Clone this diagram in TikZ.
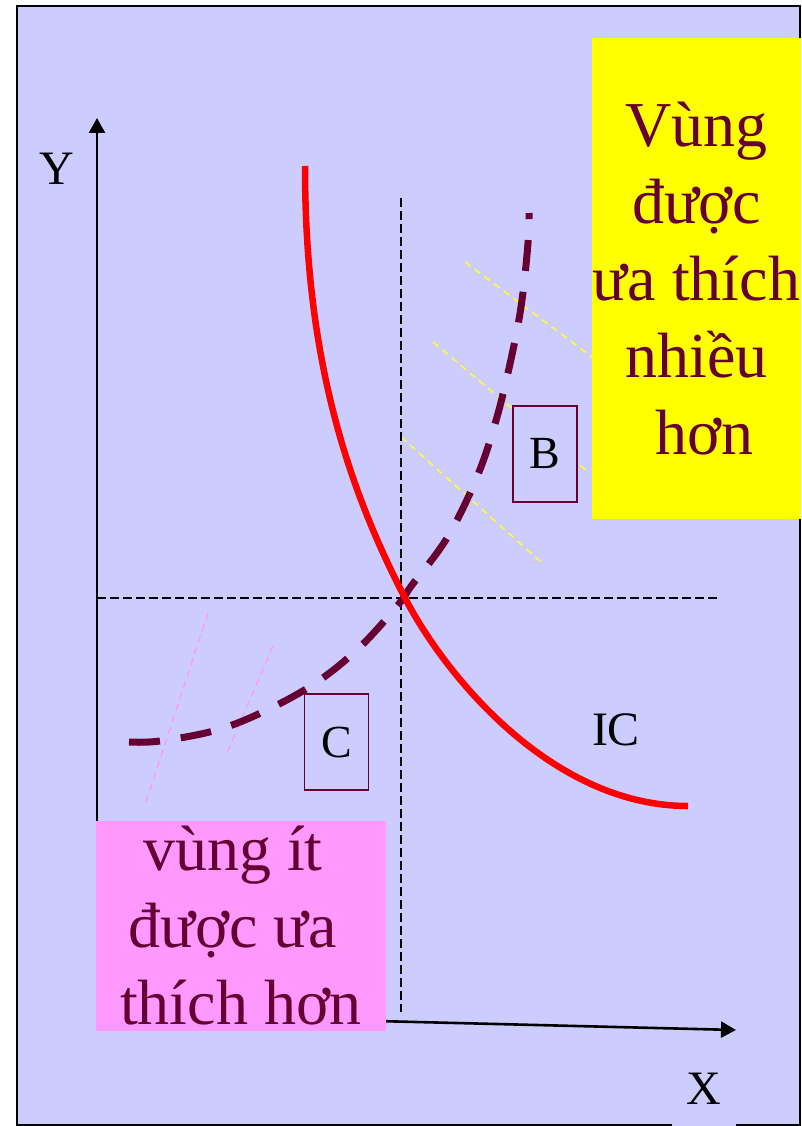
\documentclass[tikz,border=0pt]{standalone}
\usepackage{fontspec}
\setmainfont{Liberation Serif}
\usetikzlibrary{arrows.meta}
\definecolor{lav}{HTML}{CCCCFF}
\definecolor{maroon}{HTML}{660033}
\definecolor{pinkfill}{HTML}{FF99FF}
\definecolor{yel}{HTML}{FFFF00}
\definecolor{guideyel}{HTML}{FFFF33}
\definecolor{guidepink}{HTML}{FF99FF}
\begin{document}
\begin{tikzpicture}[x=1pt,y=-1pt,
  thindash/.style={line width=1.7pt, dash pattern=on 9pt off 4pt},
  guide/.style={line width=1.5pt, dash pattern=on 7pt off 5pt},
  axis/.style={line width=2.6pt, -{Triangle[length=15pt,width=16pt]}},
  lettbox/.style={draw=maroon, line width=1.5pt, fill=lav, minimum width=64pt, minimum height=96pt, inner sep=0pt, font=\fontsize{46}{50}\selectfont},
  axlabel/.style={font=\fontsize{48}{52}\selectfont, inner sep=0pt},
  region/.style={inner sep=0pt, align=center, text=maroon, font=\fontsize{64}{77}\selectfont}
]
\useasboundingbox (0,0) rectangle (801,1126);
\fill[white] (0,0) rectangle (801,1126);
\draw[line width=2.5pt, fill=lav] (17,6) rectangle (800,1125);

% guide lines
\draw[guide, guideyel] (465,262) -- (600,363);
\draw[guide, guideyel] (433,342) -- (588,472);
\draw[guide, guideyel] (401,437) -- (542,563);
\draw[guide, guidepink] (208,613) -- (145,805);
\draw[guide, guidepink] (273,646) -- (226,755);

% reference dashed lines
\coordinate (vtop) at (401,198);
\coordinate (vbot) at (401,1012);
\coordinate (hl) at (97,598);
\coordinate (hr) at (718,598);
\draw[thindash] (vtop) -- (vbot);
\draw[thindash] (hl) -- (hr);

% axes
\coordinate (O) at (97,1014);
\coordinate (ytip) at (97,118);
\coordinate (xtip) at (736,1030);
\draw[axis] (O) -- (ytip);
\draw[axis] (O) -- (xtip);

% dashed expansion path
\draw[maroon, line width=7pt, dash pattern=on 31pt off 21pt]
  plot[smooth, tension=0.6] coordinates {(129,742) (160,741) (217,730) (267,710) (317,682) (360,647) (398,605) (412,585) (447,538) (477,477) (497,417) (513,350) (522,300) (528,243) (529,213)};

% indifference curve
\coordinate (A) at (405,598);
\draw[red, line width=6.5pt]
  (305,166) .. controls (305,336) and (337.4,468) .. (A)
  .. controls (446.6,678) and (553,806) .. (688,806);

% boxes
\node[lettbox] (B) at (545,454) {B};
\node[lettbox] (C) at (336.5,742) {C};

% labels
\node[axlabel] (Y) at (57,169) {Y};
\node[axlabel, fill=lav, minimum width=64pt, minimum height=78pt] (X) at (704,1089) {X};
\node[axlabel] (IC) at (616,730) {IC};

% regions
\node[region, fill=yel, minimum width=209pt, minimum height=481pt] (more) at (696.5,278.5) {Vùng\\được\\ưa thích\\nhiều\\\makebox[16pt]{}hơn};
\node[region, fill=pinkfill, minimum width=290pt, minimum height=210pt] (less) at (241,926) {vùng ít\makebox[16pt]{}\\được ưa\makebox[16pt]{}\\thích hơn};
\end{tikzpicture}
\end{document}
